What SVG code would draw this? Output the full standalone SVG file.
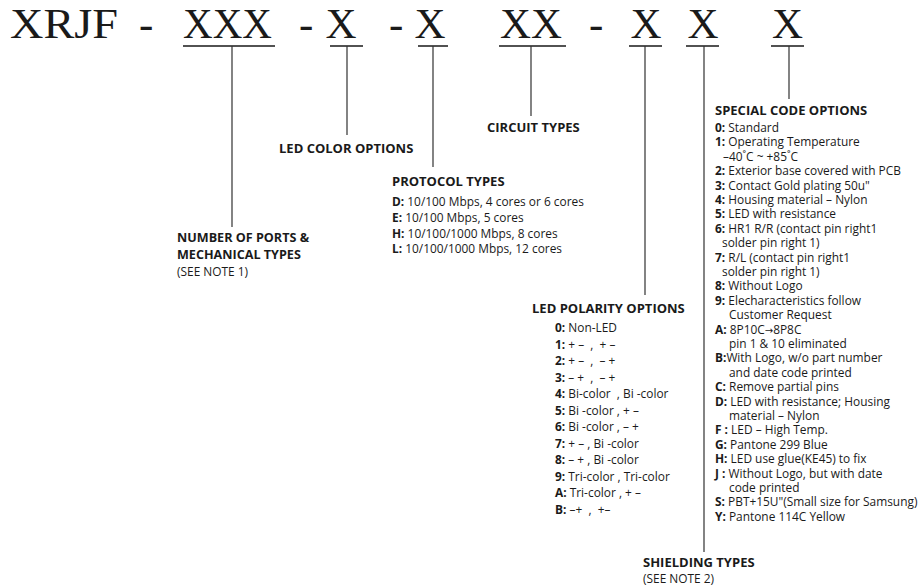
<svg xmlns="http://www.w3.org/2000/svg" width="924" height="586" viewBox="0 0 924 586">
<style>
.code{font-family:"Liberation Serif","Times New Roman",serif;font-size:43px;fill:#1a1a1a}
.ul{stroke:#1a1a1a;stroke-width:1.5;fill:none}
.con{stroke:#333;stroke-width:1.2;fill:none}
.h{font-family:"Open Sans","Noto Sans",sans-serif;font-size:13px;font-weight:bold;fill:#1a1a1a}
.t{font-family:"Open Sans","Noto Sans",sans-serif;font-size:11.9px;fill:#1a1a1a;white-space:pre}
.n{font-weight:bold}
.ar{font-family:"DejaVu Sans",sans-serif;font-size:10px}
</style>
<rect width="924" height="586" fill="#fff"/>
<g id="code">
<text class="code" x="10" y="38" textLength="108" lengthAdjust="spacingAndGlyphs">XRJF</text>
<text class="code" x="139" y="38">-</text>
<text class="code" x="227.5" y="38" text-anchor="middle" textLength="89" lengthAdjust="spacingAndGlyphs">XXX</text>
<text class="code" x="299" y="38">-</text>
<text class="code" x="341" y="38" text-anchor="middle">X</text>
<text class="code" x="389" y="38">-</text>
<text class="code" x="430" y="38" text-anchor="middle">X</text>
<text class="code" x="531" y="38" text-anchor="middle" textLength="62" lengthAdjust="spacingAndGlyphs">XX</text>
<text class="code" x="589" y="38">-</text>
<text class="code" x="646" y="38" text-anchor="middle">X</text>
<text class="code" x="703" y="38" text-anchor="middle">X</text>
<text class="code" x="787.5" y="38" text-anchor="middle">X</text>
<path class="ul" d="M183 46H275M330 46H363M418 46H448M499 46H566M629 46H662M686 46H719M771 46H804"/>
</g>
<g id="connectors">
<path class="con" d="M232 46V227M347 46V135M433 46V167M531 46V116M645 46V295M704 46V552M789 46V99"/>
</g>
<g id="ports">
<text class="h" x="177" y="242" style="font-size:12.6px">NUMBER OF PORTS &amp;</text>
<text class="h" x="177" y="259" style="font-size:12.6px">MECHANICAL TYPES</text>
<text class="t" x="177" y="276">(SEE NOTE 1)</text>
</g>
<g id="led-color">
<text class="h" x="279" y="153">LED COLOR OPTIONS</text>
</g>
<g id="circuit">
<text class="h" x="487" y="132">CIRCUIT TYPES</text>
</g>
<g id="protocol">
<text class="h" x="392" y="186">PROTOCOL TYPES</text>
<text class="t" x="392" y="206"><tspan class="n">D:</tspan> 10/100 Mbps, 4 cores or 6 cores</text>
<text class="t" x="392" y="222"><tspan class="n">E:</tspan> 10/100 Mbps, 5 cores</text>
<text class="t" x="392" y="238"><tspan class="n">H:</tspan> 10/100/1000 Mbps, 8 cores</text>
<text class="t" x="392" y="253"><tspan class="n">L:</tspan> 10/100/1000 Mbps, 12 cores</text>
</g>
<g id="polarity">
<text class="h" x="532" y="313">LED POLARITY OPTIONS</text>
<text class="t" x="555" y="332"><tspan class="n">0:</tspan> Non-LED</text>
<text class="t" x="555" y="348.5"><tspan class="n">1:</tspan> + –  ,  + –</text>
<text class="t" x="555" y="365"><tspan class="n">2:</tspan> + –  ,  – +</text>
<text class="t" x="555" y="381.5"><tspan class="n">3:</tspan> – +  ,  – +</text>
<text class="t" x="555" y="398"><tspan class="n">4:</tspan> Bi-color  , Bi -color</text>
<text class="t" x="555" y="414.5"><tspan class="n">5:</tspan> Bi -color , + –</text>
<text class="t" x="555" y="431"><tspan class="n">6:</tspan> Bi -color , – +</text>
<text class="t" x="555" y="447.5"><tspan class="n">7:</tspan> + – , Bi -color</text>
<text class="t" x="555" y="464"><tspan class="n">8:</tspan> – + , Bi -color</text>
<text class="t" x="555" y="480.5"><tspan class="n">9:</tspan> Tri-color , Tri-color</text>
<text class="t" x="555" y="497"><tspan class="n">A:</tspan> Tri-color , + –</text>
<text class="t" x="555" y="513.5"><tspan class="n">B:</tspan> –+  ,  +–</text>
</g>
<g id="shielding">
<text class="h" x="643" y="567">SHIELDING TYPES</text>
<text class="t" x="643" y="583">(SEE NOTE 2)</text>
</g>
<g id="special">
<text class="h" x="715" y="115">SPECIAL CODE OPTIONS</text>
<text class="t" x="715" y="132"><tspan class="n">0:</tspan> Standard</text>
<text class="t" x="715" y="146.4"><tspan class="n">1:</tspan> Operating Temperature</text>
<text class="t" x="723" y="160.8">–40˚C ~ +85˚C</text>
<text class="t" x="715" y="175.2"><tspan class="n">2:</tspan> Exterior base covered with PCB</text>
<text class="t" x="715" y="189.6"><tspan class="n">3:</tspan> Contact Gold plating 50u"</text>
<text class="t" x="715" y="204"><tspan class="n">4:</tspan> Housing material – Nylon</text>
<text class="t" x="715" y="218.4"><tspan class="n">5:</tspan> LED with resistance</text>
<text class="t" x="715" y="232.8"><tspan class="n">6:</tspan> HR1 R/R (contact pin right1</text>
<text class="t" x="722" y="247.2">solder pin right 1)</text>
<text class="t" x="715" y="261.6"><tspan class="n">7:</tspan> R/L (contact pin right1</text>
<text class="t" x="722" y="276">solder pin right 1)</text>
<text class="t" x="715" y="290.4"><tspan class="n">8:</tspan> Without Logo</text>
<text class="t" x="715" y="304.8"><tspan class="n">9:</tspan> Elecharacteristics follow</text>
<text class="t" x="729" y="319.2">Customer Request</text>
<text class="t" x="715" y="333.6"><tspan class="n">A:</tspan> 8P10C<tspan class="ar">→</tspan>8P8C</text>
<text class="t" x="729" y="348">pin 1 &amp; 10 eliminated</text>
<text class="t" x="715" y="362.4"><tspan class="n">B:</tspan>With Logo, w/o part number</text>
<text class="t" x="729" y="376.8">and date code printed</text>
<text class="t" x="715" y="391.2"><tspan class="n">C:</tspan> Remove partial pins</text>
<text class="t" x="715" y="405.6"><tspan class="n">D:</tspan> LED with resistance; Housing</text>
<text class="t" x="729" y="420">material – Nylon</text>
<text class="t" x="715" y="434.4"><tspan class="n">F :</tspan> LED – High Temp.</text>
<text class="t" x="715" y="448.8"><tspan class="n">G:</tspan> Pantone 299 Blue</text>
<text class="t" x="715" y="463.2"><tspan class="n">H:</tspan> LED use glue(KE45) to fix</text>
<text class="t" x="715" y="477.6"><tspan class="n">J :</tspan> Without Logo, but with date</text>
<text class="t" x="729" y="492">code printed</text>
<text class="t" x="715" y="506.4"><tspan class="n">S:</tspan> PBT+15U"(Small size for Samsung)</text>
<text class="t" x="715" y="520.8"><tspan class="n">Y:</tspan> Pantone 114C Yellow</text>
</g>
</svg>
